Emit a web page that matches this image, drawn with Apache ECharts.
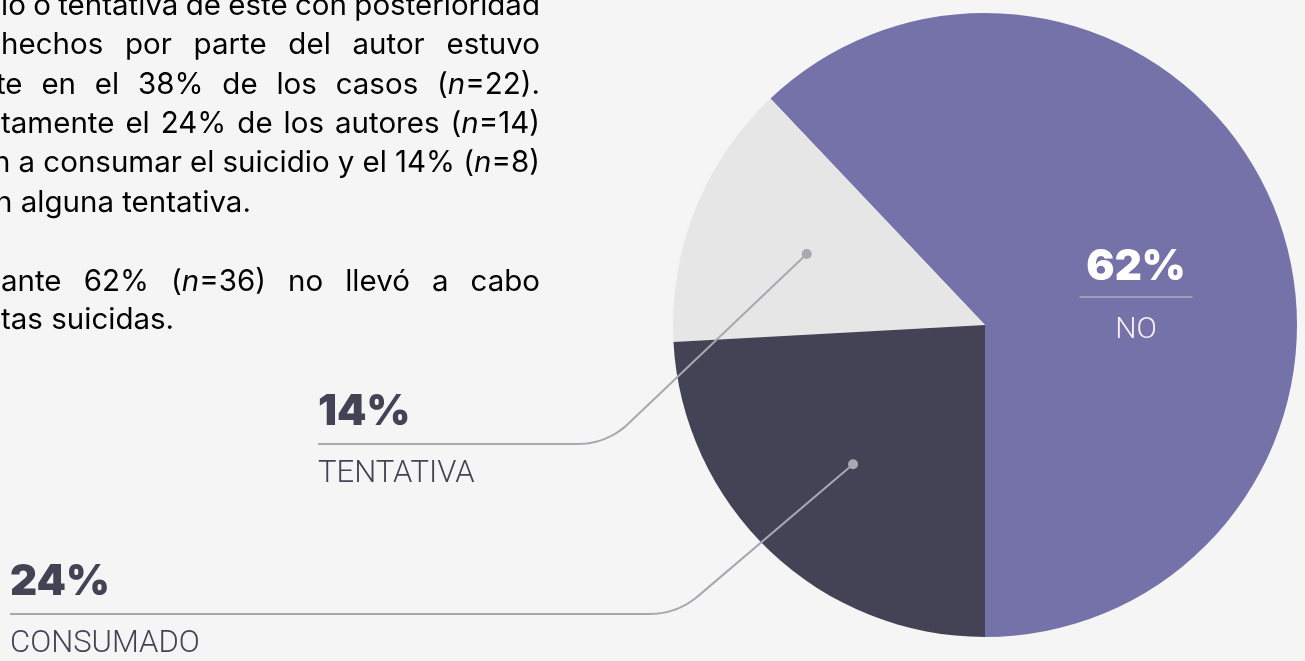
<!DOCTYPE html>
<html>
<head>
<meta charset="utf-8">
<style>
  html, body { margin: 0; padding: 0; background: #f5f5f5; }
  #grafico { width: 1305px; height: 661px; }
</style>
<script src="https://cdn.jsdelivr.net/npm/echarts@6/dist/echarts.min.js"></script>
</head>
<body>
<div id="grafico"></div>
<script>
// datos del gráfico (n de autores)
const categorias = ["NO", "TENTATIVA", "CONSUMADO"];
const casos = [36, 8, 14];
const colores = ["#7472a8", "#e6e6e6", "#444355"];

// texto del párrafo (cortado por la izquierda en el original), _n_ = cursiva
const lineas = [
  "dio o tentativa de este con posterioridad",
  "hechos por parte del autor estuvo",
  "te en el 38% de los casos (_n_=22).",
  "tamente el 24% de los autores (_n_=14)",
  "n a consumar el suicidio y el 14% (_n_=8)",
  "n alguna tentativa.",
  "ante 62% (_n_=36) no llevó a cabo",
  "tas suicidas."
];
// posición de cada línea: inicio x, centro y, justificada o no
const lineasPos = [
  { x: -17, y: 6, just: true },
  { x: 1, y: 45, just: true },
  { x: -4, y: 85, just: true },
  { x: 1, y: 124, just: true },
  { x: -7, y: 163.5, just: true },
  { x: -5, y: 203, just: false },
  { x: 1, y: 282, just: true },
  { x: 1, y: 320, just: false }
];
const margenDer = 540;
const fuenteTexto = "Inter";
const tamTexto = 29.5;

// etiquetas exteriores: final de la guía, codo y radio del redondeo
const etiquetas = [
  null,
  { x: 318, y: 444, codo: [607, 444], radio: 30 },
  { x: 10, y: 614, codo: [677, 614], radio: 28 }
];

const ctx = document.createElement("canvas").getContext("2d");
function ancho(txt, cursiva) {
  ctx.font = (cursiva ? "italic " : "") + "400 " + tamTexto + "px " + fuenteTexto;
  return ctx.measureText(txt).width;
}

function palabraRich(p) {
  const trozos = p.split("_");
  let w = 0, txt = "";
  trozos.forEach((t, i) => {
    if (!t) return;
    const it = i % 2 === 1;
    w += ancho(t, it);
    txt += "{" + (it ? "i" : "t") + "|" + t + "}";
  });
  return { txt, w };
}

const richTexto = {
  t: { fontFamily: fuenteTexto, fontSize: tamTexto, color: "#1b1b1b" },
  i: { fontFamily: fuenteTexto, fontSize: tamTexto, fontStyle: "italic", color: "#1b1b1b" }
};

function textoParrafo() {
  const els = [];
  lineas.forEach((l, k) => {
    const pos = lineasPos[k];
    const pals = l.split(" ").map(palabraRich);
    const total = pals.reduce((s, p) => s + p.w, 0);
    const hueco = pos.just && pals.length > 1
      ? (margenDer - pos.x - total) / (pals.length - 1)
      : ancho(" ", false);
    let x = pos.x;
    pals.forEach(p => {
      els.push({
        type: "text", x: x, y: pos.y, silent: true,
        style: { text: p.txt, rich: richTexto, verticalAlign: "middle", align: "left" }
      });
      x += p.w + hueco;
    });
  });
  return els;
}

// guía: tramo recto, codo redondeado, tramo horizontal
function guia(p0, c, p2, r) {
  const u = (a, b) => { const dx = a[0] - b[0], dy = a[1] - b[1], d = Math.hypot(dx, dy); return [dx / d, dy / d]; };
  const u1 = u(p0, c), u2 = u(p2, c);
  const A = [c[0] + u1[0] * r, c[1] + u1[1] * r];
  const B = [c[0] + u2[0] * r, c[1] + u2[1] * r];
  const pts = [p0, A];
  for (let k = 1; k < 12; k++) {
    const t = k / 12, s = 1 - t;
    pts.push([s * s * A[0] + 2 * s * t * c[0] + t * t * B[0], s * s * A[1] + 2 * s * t * c[1] + t * t * B[1]]);
  }
  pts.push(B, p2);
  return pts;
}

const chart = echarts.init(document.getElementById("grafico"));

const pieBase = {
  type: "pie",
  center: [985, 325],
  radius: 312,
  startAngle: 270,
  clockwise: false,
  percentPrecision: 0,
  silent: true
};

const option = {
  backgroundColor: "#f5f5f5",
  animation: false,
  series: [
    Object.assign({}, pieBase, {
      z: 2,
      label: { show: false },
      labelLine: { show: false },
      data: categorias.map((c, i) => {
        const d = { name: c, value: casos[i], itemStyle: { color: colores[i] } };
        if (i === 0) {
          d.label = {
            show: true,
            position: "inside",
            formatter: "{p|{d}%}\n{hr|}\n{n|{b}}",
            rich: {
              p: { fontFamily: "Inter", fontSize: 42, fontWeight: 900, color: "#ffffff", lineHeight: 56 },
              hr: { width: 113, height: 0, lineHeight: 4, borderWidth: 1.5, borderColor: "#aeacbf" },
              n: { fontFamily: "Roboto", fontSize: 30, fontWeight: 300, color: "#f3f3f7", lineHeight: 62 }
            }
          };
        }
        return d;
      })
    }),
    // capa superior: guías y etiquetas exteriores
    Object.assign({}, pieBase, {
      z: 5,
      itemStyle: { color: "rgba(0,0,0,0)" },
      label: {
        show: true,
        formatter: "{p|{d}%}\n{n|{b}}",
        rich: {
          p: { fontFamily: "Inter", fontSize: 42, fontWeight: 900, color: "#444355", lineHeight: 60 },
          n: { fontFamily: "Roboto", fontSize: 31, fontWeight: 300, color: "#444355", lineHeight: 64 }
        }
      },
      labelLine: { show: true, smooth: false, lineStyle: { color: "#a9a7b1", width: 2 } },
      data: categorias.map((c, i) => {
        const d = { name: c, value: casos[i] };
        if (i === 0) { d.label = { show: false }; d.labelLine = { show: false }; }
        return d;
      })
    })
  ],
  graphic: textoParrafo()
};
chart.setOption(option);

// puntos de anclaje de las guías, desde el layout de la tarta
const datosPie = chart.getModel().getSeriesByIndex(1).getData();
const puntos = casos.map((v, i) => {
  const l = datosPie.getItemLayout(i);
  const a = (l.startAngle + l.endAngle) / 2;
  return [l.cx + l.r * 0.615 * Math.cos(a), l.cy + l.r * 0.615 * Math.sin(a)];
});

chart.setOption({
  series: [
    {
      labelLayout: function () {
        return { x: 1136, y: 300, align: "center", verticalAlign: "middle" };
      }
    },
    {
      labelLayout: function (p) {
        const i = p.dataIndex;
        const e = etiquetas[i];
        if (!e) return {};
        return {
          x: e.x, y: e.y, align: "left", verticalAlign: "middle",
          labelLinePoints: guia(puntos[i], e.codo, [e.x, e.y], e.radio)
        };
      }
    }
  ],
  graphic: textoParrafo().concat(puntos.slice(1).map(pt => ({
    type: "circle", z: 100, silent: true,
    shape: { cx: pt[0], cy: pt[1], r: 5 },
    style: { fill: "#a9a7b1" }
  })))
});
</script>
</body>
</html>
